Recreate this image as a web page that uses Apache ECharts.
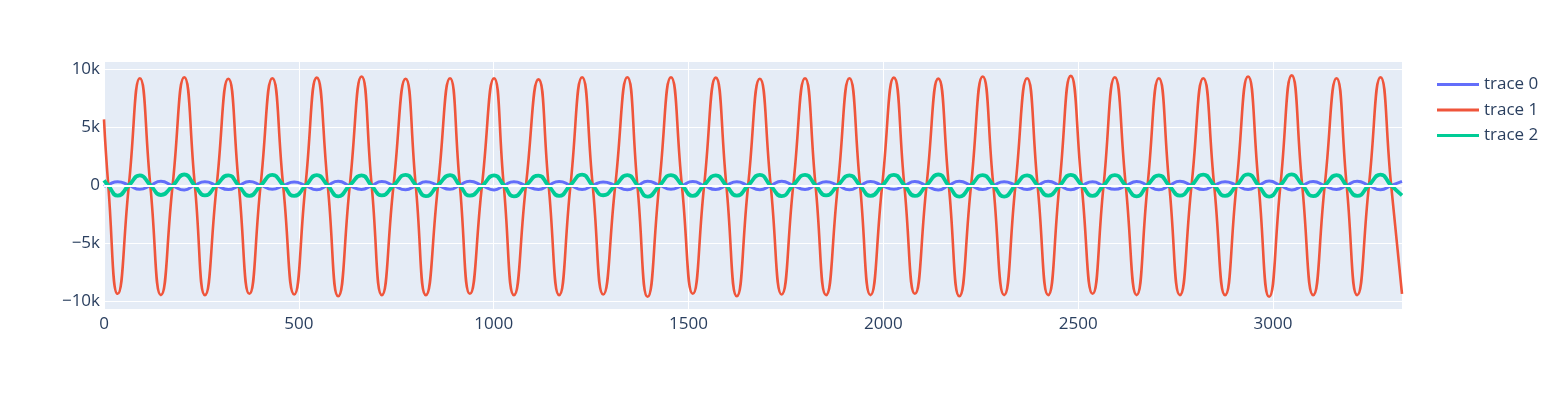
<!DOCTYPE html>
<html>
<head>
<meta charset="utf-8">
<script src="https://cdn.jsdelivr.net/npm/echarts@6/dist/echarts.min.js"></script>
<style>
  html, body { margin: 0; padding: 0; background: #fff; }
  #chart { width: 1546px; height: 413px; }
</style>
</head>
<body>
<div id="chart"></div>
<script>
// x positions: start, then trough / zero / peak / zero for each cycle of trace 1
const xs = [0, 11,
  35, 64, 92, 119,
  146, 176, 206, 233,
  259, 289, 319, 346,
  373, 402, 432, 460,
  488, 517, 546, 574,
  601, 631, 661, 687,
  713, 743, 774, 800,
  826, 857, 888, 913,
  939, 970, 1001, 1026,
  1052, 1083, 1115, 1141,
  1168, 1197, 1227, 1254,
  1281, 1312, 1343, 1369,
  1395, 1425, 1455, 1483,
  1511, 1540, 1570, 1597,
  1624, 1653, 1683, 1711,
  1739, 1769, 1799, 1826,
  1853, 1883, 1913, 1940,
  1967, 1997, 2027, 2054,
  2081, 2111, 2141, 2168,
  2195, 2225, 2255, 2282,
  2310, 2339, 2369, 2396,
  2423, 2452, 2481, 2509,
  2537, 2565, 2594, 2622,
  2650, 2678, 2707, 2734,
  2761, 2791, 2821, 2849,
  2877, 2906, 2936, 2963,
  2990, 3019, 3048, 3075,
  3103, 3133, 3163, 3189,
  3216, 3246, 3276, 3303,
  3331];

const trace0 = [-80, 80,
  330, 20, -330, 0,
  360, -20, -380, 30,
  320, 0, -350, -20,
  350, 30, -330, 0,
  300, 0, -370, 20,
  360, -30, -340, 0,
  340, 0, -360, -20,
  320, 20, -330, 30,
  370, 0, -380, 0,
  330, -20, -340, 20,
  350, 10, -350, 0,
  310, 0, -370, -30,
  360, 30, -330, 0,
  340, 0, -350, 20,
  330, -20, -360, 0,
  370, 0, -340, 30,
  320, 20, -370, 0,
  350, 0, -330, -20,
  340, -30, -380, 10,
  360, 0, -350, 0,
  330, 20, -340, 20,
  370, 0, -360, 0,
  320, -20, -330, -30,
  350, 10, -370, 0,
  360, 0, -350, 20,
  330, 30, -340, 0,
  380, 0, -380, -20,
  340, -20, -350, 10,
  360, 0, -360, 0,
  350];

const trace1 = [5700, 0,
  -9340, 100, 9250, -50,
  -9450, 0, 9340, 80,
  -9450, -60, 9200, 0,
  -9340, 50, 9250, -100,
  -9400, 0, 9300, 60,
  -9550, 80, 9400, -40,
  -9450, 0, 9200, 0,
  -9450, -80, 9250, 100,
  -9340, 0, 9250, -60,
  -9450, 60, 9150, 0,
  -9450, -40, 9330, 50,
  -9400, 0, 9330, -80,
  -9600, 100, 9330, 0,
  -9340, -50, 9300, 60,
  -9550, 0, 9200, -40,
  -9400, 70, 9250, 0,
  -9450, -90, 9250, 80,
  -9450, 0, 9300, -50,
  -9340, 60, 9220, 0,
  -9550, -40, 9400, 90,
  -9450, 0, 9250, -70,
  -9450, 80, 9450, 0,
  -9340, -60, 9330, 40,
  -9450, 0, 9250, -80,
  -9450, 50, 9250, 0,
  -9450, -70, 9400, 60,
  -9600, 0, 9500, -40,
  -9450, 90, 9250, 0,
  -9450, -50, 9330, 70,
  -9340];

const trace2 = [450, 0,
  -880, 20, 880, 40,
  -820, -30, 950, 0,
  -860, 50, 880, -20,
  -900, 0, 910, 30,
  -900, -40, 900, 10,
  -940, 30, 880, -30,
  -860, 0, 920, 40,
  -920, 20, 900, 0,
  -880, -50, 880, 30,
  -940, 10, 860, -20,
  -900, 40, 940, 0,
  -840, 0, 900, 20,
  -960, -30, 900, 40,
  -900, 30, 880, 0,
  -880, 0, 920, -40,
  -920, 40, 920, 20,
  -860, 0, 880, 0,
  -900, -20, 920, 30,
  -900, 30, 950, -20,
  -960, 0, 900, 40,
  -960, 20, 880, 0,
  -880, -30, 920, 30,
  -900, 0, 900, 0,
  -940, 40, 880, -30,
  -880, 0, 940, 20,
  -900, -20, 960, 0,
  -960, 30, 960, 40,
  -920, 0, 900, -20,
  -900, 20, 940, 10,
  -850];

const names = ['trace 0', 'trace 1', 'trace 2'];
const colors = ['#636efa', '#ef553b', '#00cc96'];
const xTicks = [0, 500, 1000, 1500, 2000, 2500, 3000];
const yTicks = [-10000, -5000, 0, 5000, 10000];

const chart = echarts.init(document.getElementById('chart'), null, { renderer: 'canvas' });

const pairs = ys => xs.map((x, i) => [x, ys[i]]);
const font = { fontFamily: '"Open Sans", Verdana, Arial, sans-serif', fontSize: 17, color: '#2a3f5f' };

const lineSeries = (name, ys, color, width) => ({
  name: name,
  type: 'line',
  data: pairs(ys),
  smooth: 0.55,
  showSymbol: false,
  symbol: 'none',
  z: 3,
  lineStyle: { color: color, width: width },
  itemStyle: { color: color }
});

const option = {
  animation: false,
  backgroundColor: '#fff',
  color: colors,
  grid: { left: 104, top: 62, width: 1298, height: 247, backgroundColor: '#e5ecf6', show: true, borderWidth: 0 },
  legend: {
    data: names,
    orient: 'vertical',
    left: 1437,
    top: 76,
    padding: 0,
    icon: 'rect',
    itemWidth: 42,
    itemHeight: 3,
    itemGap: 8.5,
    textStyle: font
  },
  xAxis: {
    type: 'value',
    min: 0,
    max: 3331,
    axisLine: { show: false },
    axisTick: { show: false, customValues: xTicks },
    axisLabel: { ...font, margin: 7, customValues: xTicks, formatter: v => String(v) },
    splitLine: { show: true, lineStyle: { color: '#fff', width: 1 } }
  },
  yAxis: {
    type: 'value',
    min: -10650,
    max: 10650,
    axisLine: { show: false },
    axisTick: { show: false, customValues: yTicks },
    axisLabel: {
      ...font,
      margin: 4,
      customValues: yTicks,
      formatter: v => v === 0 ? '0' : (v < 0 ? '\u2212' : '') + Math.abs(v / 1000) + 'k'
    },
    splitLine: { show: true, lineStyle: { color: '#fff', width: 1 } }
  },
  series: [
    {
      name: 'zero',
      type: 'line',
      data: [],
      z: 1,
      markLine: {
        silent: true,
        symbol: 'none',
        label: { show: false },
        lineStyle: { color: '#fff', width: 2, type: 'solid' },
        data: [{ yAxis: 0 }]
      }
    },
    lineSeries(names[0], trace0, colors[0], 3),
    lineSeries(names[1], trace1, colors[1], 2.6),
    lineSeries(names[2], trace2, colors[2], 3.8)
  ]
};

chart.setOption(option);
</script>
</body>
</html>
